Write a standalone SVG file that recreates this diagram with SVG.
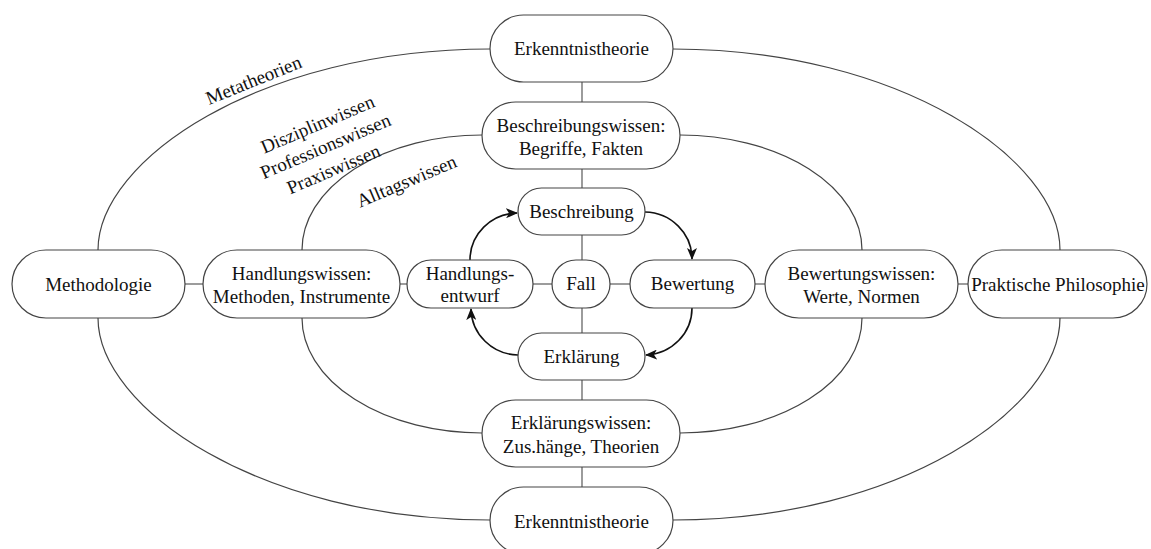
<svg xmlns="http://www.w3.org/2000/svg" width="1151" height="549" viewBox="0 0 1151 549">
<style>
.bg{fill:#fff}
.node rect{fill:#fff;stroke:#444;stroke-width:1.2}
text{font-family:'Liberation Serif','DejaVu Serif',serif;font-size:19px;fill:#111;text-anchor:middle}
.ell{fill:none;stroke:#444;stroke-width:1.2}
.ln{stroke:#666;stroke-width:1.3;fill:none}
.arr{stroke:#111;stroke-width:1.6;fill:none;marker-end:url(#ah)}
</style>
<defs>
<marker id="ah" markerWidth="12" markerHeight="10" refX="11" refY="5" orient="auto" markerUnits="userSpaceOnUse">
<path d="M0,0 L12,5 L0,10 L3,5 Z" fill="#111"/>
</marker>
</defs>
<rect class="bg" x="0" y="0" width="1151" height="549"/>
<g id="connectors">
<path class="ell" d="M490,49 C260,49 98,160 98,250"/>
<path class="ell" d="M673,49 C900,49 1060,160 1060,250"/>
<path class="ell" d="M98,318 C98,408 260,520 490,520"/>
<path class="ell" d="M1060,318 C1060,408 900,520 673,520"/>
<path class="ell" d="M482,135 A180,115 0 0 0 302,250"/>
<path class="ell" d="M680,135 A182,115 0 0 1 862,250"/>
<path class="ell" d="M302,318 A180,115 0 0 0 482,433"/>
<path class="ell" d="M862,318 A182,115 0 0 1 680,433"/>
<line class="ln" x1="582" y1="82" x2="582" y2="102"/>
<line class="ln" x1="582" y1="169" x2="582" y2="188"/>
<line class="ln" x1="582" y1="235" x2="582" y2="260"/>
<line class="ln" x1="582" y1="308" x2="582" y2="333"/>
<line class="ln" x1="582" y1="380" x2="582" y2="400"/>
<line class="ln" x1="582" y1="467" x2="582" y2="487"/>
<line class="ln" x1="185" y1="284" x2="203" y2="284"/>
<line class="ln" x1="400" y1="284" x2="407" y2="284"/>
<line class="ln" x1="533" y1="284" x2="552" y2="284"/>
<line class="ln" x1="610" y1="284" x2="630" y2="284"/>
<line class="ln" x1="755" y1="284" x2="765" y2="284"/>
<line class="ln" x1="958" y1="284" x2="968" y2="284"/>
<path class="arr" d="M470,260 A48,47 0 0 1 517,213"/>
<path class="arr" d="M645,212 A48,47 0 0 1 692,259"/>
<path class="arr" d="M692,308 A48,47 0 0 1 646,355"/>
<path class="arr" d="M518,355 A48,47 0 0 1 471,309"/>
</g>
<g id="n-erk-top" class="node"><rect x="490" y="15" width="183" height="67" rx="33.5"/><text x="581.5" y="55">Erkenntnistheorie</text></g>
<g id="n-beschreibungswissen" class="node"><rect x="482" y="102" width="198" height="67" rx="33.5"/><text x="581" y="132">Beschreibungswissen:</text><text x="581" y="155">Begriffe, Fakten</text></g>
<g id="n-beschreibung" class="node"><rect x="518" y="188" width="127" height="47" rx="23.5"/><text x="581.5" y="218">Beschreibung</text></g>
<g id="n-handlungsentwurf" class="node"><rect x="407" y="260" width="126" height="48" rx="24"/><text x="470" y="280">Handlungs-</text><text x="470" y="302">entwurf</text></g>
<g id="n-fall" class="node"><rect x="552" y="260" width="58" height="48" rx="24"/><text x="581" y="290">Fall</text></g>
<g id="n-bewertung" class="node"><rect x="630" y="260" width="125" height="48" rx="24"/><text x="692.5" y="290">Bewertung</text></g>
<g id="n-erklaerung" class="node"><rect x="518" y="333" width="127" height="47" rx="23.5"/><text x="581.5" y="363">Erklärung</text></g>
<g id="n-erklaerungswissen" class="node"><rect x="482" y="400" width="198" height="67" rx="33.5"/><text x="581" y="429">Erklärungswissen:</text><text x="581" y="453">Zus.hänge, Theorien</text></g>
<g id="n-erk-bottom" class="node"><rect x="490" y="487" width="183" height="67" rx="33.5"/><text x="581.5" y="528">Erkenntnistheorie</text></g>
<g id="n-methodologie" class="node"><rect x="12" y="250" width="173" height="68" rx="34"/><text x="98.5" y="291">Methodologie</text></g>
<g id="n-handlungswissen" class="node"><rect x="203" y="250" width="197" height="68" rx="34"/><text x="301.5" y="280">Handlungswissen:</text><text x="301.5" y="303">Methoden, Instrumente</text></g>
<g id="n-bewertungswissen" class="node"><rect x="765" y="250" width="193" height="68" rx="34"/><text x="861.5" y="280">Bewertungswissen:</text><text x="861.5" y="303">Werte, Normen</text></g>
<g id="n-praktische" class="node"><rect x="968" y="250" width="179" height="68" rx="34"/><text x="1058" y="291">Praktische Philosophie</text></g>
<g id="labels">
<text transform="translate(256,86) rotate(-22)">Metatheorien</text>
<text transform="translate(320,130) rotate(-23)">Disziplinwissen</text>
<text transform="translate(328,152) rotate(-23)">Professionswissen</text>
<text transform="translate(336,175) rotate(-23)">Praxiswissen</text>
<text transform="translate(409,187) rotate(-23)">Alltagswissen</text>
</g>
</svg>
